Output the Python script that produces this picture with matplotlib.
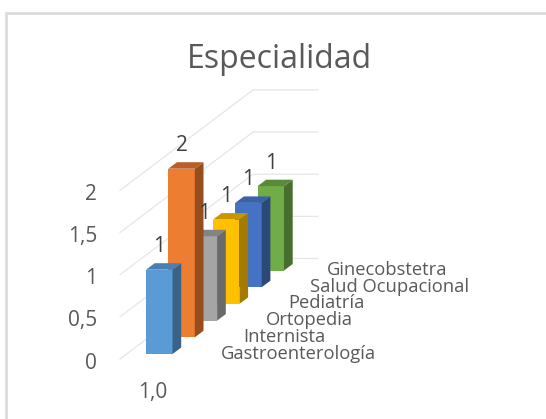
import matplotlib
matplotlib.use("Agg")
import matplotlib.pyplot as plt
from matplotlib.patches import Polygon

categories = ["Gastroenterología", "Internista", "Ortopedia", "Pediatría", "Salud Ocupacional", "Ginecobstetra"]
values = [1, 2, 1, 1, 1, 1]
value_labels = ["1", "2", "1", "1", "1", "1"]
tick_values = [0, 0.5, 1, 1.5, 2]
tick_labels = ["0", "0,5", "1", "1,5", "2"]
series_label = "1,0"
title = "Especialidad"
front_colors = ["#5B9BD5", "#ED7D31", "#A5A5A5", "#FFC000", "#4472C4", "#70AD47"]
side_colors = ["#376389", "#964E1E", "#6A6A6A", "#A37B00", "#2A4878", "#476E2C"]
top_colors = ["#4A80B0", "#B85F25", "#838383", "#C89700", "#3A62A8", "#588A38"]

FONT = "Open Sans"
TEXT = "#595959"
W, H = 546, 419
fig = plt.figure(figsize=(W / 100, H / 100), dpi=100)
ax = fig.add_axes([0, 0, 1, 1])

# scales: one category step = 22.3 px, one value unit = 84.3 px
STEP, UNIT = 22.3, 84.3
X0, Y0 = 146, 354
ax.set_xlim((0 - X0) / STEP, (W - X0) / STEP)
ax.set_ylim((Y0 - H) / UNIT, Y0 / UNIT)
ax.axis("off")

RISE = 16.7 / UNIT            # value units of lift per category step (receding floor)
BAR_W = 26.5 / STEP
DX, DY = 8.7 / STEP, 6.5 / UNIT

# frame
ax.plot([6 / W, 6 / W, 1], [0, 1 - 13.5 / H, 1 - 13.5 / H], transform=ax.transAxes,
        color="#D9D9D9", lw=1.8, solid_joinstyle="miter", clip_on=False)

# gridlines on the side and back walls
WALL_A, WALL_B, WALL_C = -26 / STEP, 107 / STEP, 172 / STEP
WALL_OFF_A, WALL_OFF_B = -5 / UNIT, 95.5 / UNIT
for v in tick_values:
    ax.plot([WALL_A, WALL_B, WALL_C], [v + WALL_OFF_A, v + WALL_OFF_B, v + WALL_OFF_B],
            color="#E6E6E6", lw=0.9, zorder=1)

# bars, back to front
for i in range(len(values) - 1, -1, -1):
    v = values[i]
    z = 10 + (len(values) - i)
    b = RISE * i
    x1 = i + BAR_W
    ax.bar(i, v, width=BAR_W, bottom=b, align="edge", color=front_colors[i], zorder=z, linewidth=0)
    ax.add_patch(Polygon([(x1, b), (x1 + DX, b + DY), (x1 + DX, b + v + DY), (x1, b + v)],
                         color=side_colors[i], lw=0, zorder=z))
    ax.add_patch(Polygon([(i, b + v), (i + DX, b + v + DY), (x1 + DX, b + v + DY), (x1, b + v)],
                         color=top_colors[i], lw=0, zorder=z))
    ax.annotate(value_labels[i], (i + BAR_W / 2, b + v), xytext=(0, 16.5), textcoords="offset points",
                ha="center", va="center", fontsize=15, color="#404040", family=FONT, zorder=40)

# value axis labels
for v, s in zip(tick_values, tick_labels):
    ax.text(-49 / STEP, v - 9 / UNIT, s, ha="right", va="center", fontsize=15, color=TEXT, family=FONT)

# category labels
nudge = [0, 0, 0, 0, 0, -6 / STEP]
for i, c in enumerate(categories):
    ax.text(i + 75 / STEP + nudge[i], RISE * i + 0.5 / UNIT, c, ha="left", va="center", fontsize=13.2,
            color=TEXT, family=FONT, zorder=50, linespacing=1)

ax.text(153 / W, 1 - 392 / H, series_label, transform=ax.transAxes, ha="center", va="center",
        fontsize=15, color=TEXT, family=FONT)
ax.text(279.5 / W, 1 - 60 / H, title, transform=ax.transAxes, ha="center", va="center",
        fontsize=23, color=TEXT, family=FONT)

fig.savefig("out.png", dpi=100, facecolor="white")
